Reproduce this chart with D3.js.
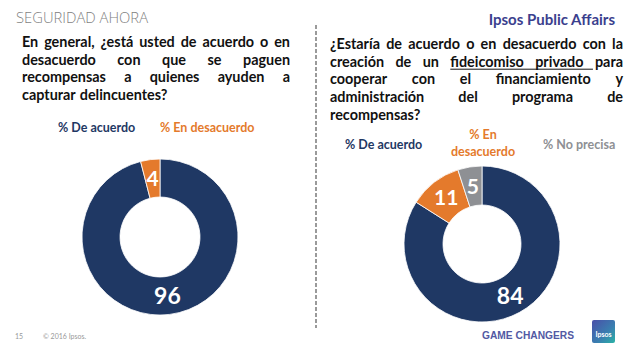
<!DOCTYPE html>
<html><head><meta charset="utf-8">
<script src="https://cdn.jsdelivr.net/npm/d3@7/dist/d3.min.js"></script>
<style>
body{margin:0;background:#fff;}
svg{display:block;}
</style></head>
<body>
<svg id="c" width="640" height="356"></svg>
<script>
// ---- data ----
const leftCategories = ["% De acuerdo", "% En desacuerdo"];
const leftValues = [96, 4];
const rightCategories = ["% De acuerdo", "% En desacuerdo", "% No precisa"];
const rightValues = [84, 11, 5];
const colors = ["#1f3864", "#e47a2c", "#8e9094"];
const leftQuestion = [
  "En general, ¿está usted de acuerdo o en",
  "desacuerdo con que se paguen",
  "recompensas a quienes ayuden a",
  "capturar delincuentes?"
];
const rightQuestion = [
  "¿Estaría de acuerdo o en desacuerdo con la",
  "creación de un fideicomiso privado para",
  "cooperar con el financiamiento y",
  "administración del programa de",
  "recompensas?"
];

const svg = d3.select("#c");
const FONT = "Lato, 'Open Sans', sans-serif";

// header texts
svg.append("text").attr("x", 16).attr("y", 23)
  .attr("font-family", "'Open Sans', sans-serif").attr("font-weight", 300)
  .attr("font-size", 14.5).attr("fill", "#7f7f7f")
  .attr("textLength", 132).attr("lengthAdjust", "spacingAndGlyphs")
  .text("SEGURIDAD AHORA");
svg.append("text").attr("x", 615).attr("y", 25).attr("text-anchor", "end")
  .attr("font-family", FONT).attr("font-weight", 700)
  .attr("font-size", 15).attr("fill", "#3b3f8e")
  .text("Ipsos Public Affairs");

// dashed divider
svg.append("line").attr("x1", 316).attr("x2", 316).attr("y1", 25).attr("y2", 328)
  .attr("stroke", "#9a9a9a").attr("stroke-width", 2).attr("stroke-dasharray", "4,2");

// justified question text
function question(lines, x0, x1, y0, lh, underline) {
  const g = svg.append("g").attr("font-family", FONT).attr("font-weight", 700)
    .attr("font-size", 14.4).attr("fill", "#111");
  lines.forEach((line, i) => {
    const y = y0 + i * lh;
    const words = line.split(" ");
    const nodes = words.map(w => g.append("text").attr("y", y).text(w));
    const widths = nodes.map(n => n.node().getComputedTextLength());
    const total = d3.sum(widths);
    const last = i === lines.length - 1;
    const gap = (!last && words.length > 1) ? (x1 - x0 - total) / (words.length - 1) : 4;
    let x = x0;
    const pos = [];
    nodes.forEach((n, k) => { n.attr("x", x); pos.push([x, x + widths[k]]); x += widths[k] + gap; });
    if (underline && underline.line === i) {
      const a = words.indexOf(underline.from), b = words.indexOf(underline.to);
      g.append("line").attr("x1", pos[a][0]).attr("x2", pos[b][1] + gap - 2)
        .attr("y1", y + 2.5).attr("y2", y + 2.5).attr("stroke", "#111").attr("stroke-width", 1);
    }
  });
}
question(leftQuestion, 22, 290, 47, 17.7);
question(rightQuestion, 330, 623, 49, 17.7, {line: 1, from: "fideicomiso", to: "privado"});

// legends
function legendText(x, y, txt, color, anchor) {
  svg.append("text").attr("x", x).attr("y", y).attr("text-anchor", anchor || "start")
    .attr("font-family", FONT).attr("font-weight", 700).attr("font-size", 12.5)
    .attr("fill", color).text(txt);
}
legendText(58, 132, leftCategories[0], colors[0]);
legendText(160, 132, leftCategories[1], colors[1]);
legendText(345, 149, rightCategories[0], colors[0]);
legendText(483, 139, "% En", colors[1], "middle");
legendText(483, 156, "desacuerdo", colors[1], "middle");
legendText(543, 149, rightCategories[2], colors[2]);

// donuts
function donut(values, cx, cy, rOut, rIn, fontSizes) {
  const pie = d3.pie().sort(null).value(d => d);
  const arc = d3.arc().innerRadius(rIn).outerRadius(rOut);
  const g = svg.append("g").attr("transform", `translate(${cx},${cy})`);
  const arcs = pie(values);
  g.selectAll("path").data(arcs).join("path")
    .attr("d", arc).attr("fill", (d, i) => colors[i])
    .attr("stroke", "#fff").attr("stroke-width", 0.8);
  g.selectAll("text").data(arcs).join("text")
    .attr("transform", d => `translate(${arc.centroid(d)})`)
    .attr("text-anchor", "middle").attr("dy", "0.36em")
    .attr("font-family", FONT).attr("font-weight", 700)
    .attr("font-size", (d, i) => fontSizes[i]).attr("fill", "#fff")
    .text(d => d.data);
}
donut(leftValues, 160, 237, 78, 40, [23, 21]);
donut(rightValues, 482, 244, 78, 39, [23, 21, 21]);

// footer
svg.append("text").attr("x", 15).attr("y", 339).attr("font-family", FONT)
  .attr("font-size", 7).attr("fill", "#999").text("15");
svg.append("text").attr("x", 43).attr("y", 339).attr("font-family", FONT)
  .attr("font-size", 7).attr("fill", "#999").text("© 2016 Ipsos.");
svg.append("text").attr("x", 482).attr("y", 339).attr("font-family", "'Liberation Sans', Arial, sans-serif")
  .attr("font-weight", 700).attr("font-size", 11).attr("fill", "#5259a3")
  .attr("textLength", 92).attr("lengthAdjust", "spacingAndGlyphs").text("GAME CHANGERS");

// Ipsos logo
const defs = svg.append("defs");
const lg = defs.append("linearGradient").attr("id", "lg").attr("x1", "0").attr("y1", "0").attr("x2", "1").attr("y2", "1");
lg.append("stop").attr("offset", "0").attr("stop-color", "#4a4fa8");
lg.append("stop").attr("offset", "0.6").attr("stop-color", "#3a7fb0");
lg.append("stop").attr("offset", "1").attr("stop-color", "#2bb3a6");
svg.append("rect").attr("x", 592).attr("y", 320).attr("width", 23).attr("height", 23)
  .attr("rx", 2).attr("fill", "url(#lg)");
svg.append("text").attr("x", 603.5).attr("y", 337).attr("text-anchor", "middle")
  .attr("font-family", FONT).attr("font-weight", 700).attr("font-size", 7)
  .attr("fill", "#fff").text("Ipsos");
</script>
</body></html>
